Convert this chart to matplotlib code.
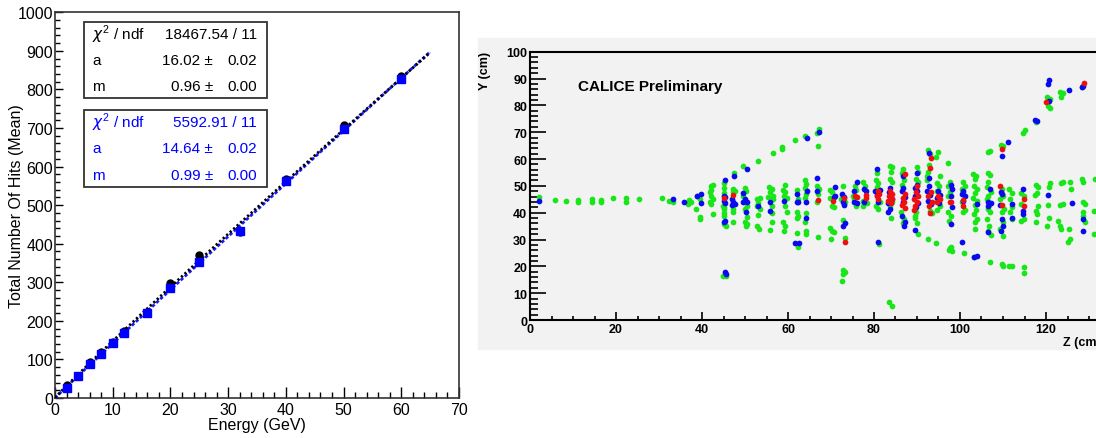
import numpy as np
import matplotlib
matplotlib.use('Agg')
import matplotlib.pyplot as plt
from matplotlib.patches import Rectangle
from matplotlib.ticker import MultipleLocator

plt.rcParams['font.family'] = ['Liberation Sans', 'DejaVu Sans']
plt.rcParams['mathtext.fontset'] = 'custom'
plt.rcParams['mathtext.rm'] = 'Liberation Sans'

# ---- left panel: linearity ----
energy = [2, 4, 6, 8, 10, 12, 16, 20, 25, 32, 40, 50, 60]
hits_black = [35, 58, 93, 120, 145, 175, 222, 298, 372, 430, 568, 708, 835]
hits_blue = [25, 57, 88, 115, 143, 168, 220, 285, 353, 433, 563, 697, 828]
fit_black = dict(chi2='18467.54 / 11', a=16.02, a_err=0.02, m=0.964, m_err=0.00)
fit_blue = dict(chi2='5592.91 / 11', a=14.64, a_err=0.02, m=0.986, m_err=0.00)
fit_range = (0, 65)

# ---- right panel: event display (Z, Y in cm) ----
green_z = [2, 5.7, 8.3, 11.2, 11.2, 14.4, 14.4, 16.4, 16.4, 19.2, 22.4, 22.4, 25.3, 30.6, 32.3, 33.2, 36.9, 36.7,
           38.9, 39.5, 38.6, 39.5, 39.5, 37.5,
           42.0, 42.5, 42.2, 41.9, 42.2, 42.5, 41.9, 42.2, 42.5,
           45.2, 45.0, 45.0, 44.8, 45.2, 45.0, 45.0, 45.0, 45.0, 45.6, 44.8, 45.6,
           47.5, 47.3, 47.1, 47.7, 47.3, 47.1, 47.3,
           49.6, 50.0, 50.2, 49.6, 50.4, 50.0, 50.4, 50.0, 50.4, 50.2,
           53.1, 52.7, 53.5, 53.1, 52.7, 53.5, 53.1, 52.7, 53.3,
           56.4, 55.6, 56.2, 55.8, 56.4, 55.4, 56.4, 56.2, 56.2, 56.2, 55.8,
           58.5, 58.7, 59.3, 58.9, 59.3, 59.1, 59.7, 59.3, 59.7, 58.9, 59.3, 59.1,
           61.7, 62.0, 62.4, 62.0, 62.4, 62.2, 62.0, 62.4,
           64.0, 64.0, 64.3, 64.0, 64.2, 64.0, 64.3, 64.0, 64.3, 64.2,
           66.7, 67.3, 67.0, 66.7, 67.3, 67.0, 66.7, 67.0,
           69.8, 70.2, 69.8, 70.2, 70.6, 69.8, 70.2, 70.6, 70.0,
           72.9, 72.3, 73.3, 72.9, 73.3, 72.9, 73.3, 72.7, 72.5,
           75.6, 75.8, 75.2, 75.4, 75.8,
           77.5, 77.9, 77.5, 78.3, 77.5,
           80.6, 80.5, 81.0, 80.6, 81.4, 80.5, 81.0, 81.2,
           83.7, 84.1, 84.0, 83.7, 84.1, 84.1, 83.7, 84.0, 83.6, 84.1,
           86.8, 86.4, 87.0, 86.4, 86.2, 87.0, 86.8,
           90.1, 90.3, 89.8, 90.3, 89.8, 89.6, 89.6, 90.1, 90.3,
           92.6, 93.0, 92.9, 92.6, 92.4, 92.4, 93.0, 93.4, 92.6, 94.4,
           95.0, 94.4, 95.4, 94.7, 95.2, 94.6, 95.4, 94.7, 97.3,
           97.7, 97.3, 97.7, 97.3, 97.3, 97.8, 97.5, 97.7, 98.1, 97.5, 97.9,
           100.8, 101.2, 100.4, 100.8, 100.4, 101.2, 100.8, 100.9,
           103.1, 103.7, 103.5, 103.2, 103.9, 103.5, 103.1, 104.0, 103.5, 103.7, 103.2, 103.9, 103.5, 103.5, 103.3,
           106.4, 107.0, 106.6, 106.2, 107.1, 106.6, 106.2, 106.8, 106.4, 107.0, 106.2, 106.8, 106.6, 107.1, 107.0, 106.9, 106.6,
           109.5, 110.1, 109.7, 110.1, 109.3, 110.2, 109.7, 110.1, 109.3, 109.9, 109.7, 110.1,
           111.5, 112.0, 111.6, 112.2, 111.6, 112.0, 111.5, 112.2,
           114.6, 115.1, 114.3, 114.9, 114.3, 114.9, 114.3, 114.9, 114.9,
           117.7, 117.7, 118.2, 118.0, 117.4, 118.2, 117.7, 118.0, 117.7,
           120.3, 120.9, 120.5, 120.9, 120.9, 120.8, 120.5, 120.8, 120.3,
           123.3, 123.9, 123.6, 123.6, 124.0, 123.3, 123.9, 123.3, 123.6, 122.9, 125.6, 125.2,
           125.6, 125.7, 125.4,
           128.3, 128.3, 128.5, 128.5, 129.1, 128.7, 128.5, 129.0,
           131.4, 131.2, 131.2]
green_y = [46, 44.7, 44.5, 44.7, 44.1, 45.1, 44.1, 44.7, 44.1, 45.6, 45.3, 43.9, 45.1, 45.3, 44.3, 44.0, 44.7, 43.1,
           46.1, 45.0, 41.2, 38.3, 37.7, 44.0,
           50.1, 50.3, 48.6, 47.6, 46.4, 45.1, 43.9, 43.3, 39.5,
           51.1, 49.1, 47.4, 42.6, 42.0, 41.2, 39.9, 38.9, 35.8, 35.2, 16.5, 16.3,
           54.8, 48.9, 47.6, 48.2, 41.4, 40.4, 36.7,
           57.3, 49.1, 47.9, 46.4, 42.6, 41.4, 38.3, 36.4, 35.8, 35.2,
           59.2, 45.1, 45.4, 43.6, 42.6, 41.4, 39.2, 35.2, 34.0,
           62.1, 49.5, 48.9, 47.6, 46.4, 45.7, 45.1, 42.6, 39.9, 36.7, 33.7,
           64.3, 63.7, 50.3, 48.5, 47.6, 46.4, 45.4, 42.6, 40.4, 36.4, 35.2, 33.3,
           67.0, 48.6, 45.1, 40.2, 38.9, 37.9, 32.5, 27.1,
           68.5, 52.3, 50.7, 49.1, 47.0, 45.4, 39.9, 36.7, 33.3, 32.1,
           69.7, 71.2, 64.8, 49.8, 48.9, 47.0, 43.9, 30.8,
           48.6, 47.6, 45.5, 42.6, 42.0, 34.2, 33.3, 32.9, 30.2,
           49.8, 45.1, 43.9, 37.1, 30.5, 18.8, 17.8, 17.2, 14.7,
           50.1, 48.3, 46.4, 45.1, 42.6,
           51.3, 50.1, 44.5, 43.6, 42.4,
           54.8, 52.3, 51.1, 49.5, 43.9, 42.6, 41.4, 28.2,
           57.5, 56.9, 55.3, 52.6, 51.3, 43.9, 42.6, 37.9, 6.6, 5.1,
           56.3, 54.8, 52.3, 50.3, 40.2, 37.7, 36.2,
           56.9, 55.1, 52.6, 51.6, 40.2, 38.9, 37.9, 36.2, 32.1,
           63.5, 61.9, 57.8, 55.1, 53.6, 52.0, 40.8, 39.9, 30.2, 28.6,
           62.5, 60.6, 53.6, 51.1, 49.9, 48.2, 42.6, 41.1, 58.5,
           51.6, 50.1, 47.6, 46.1, 40.4, 38.9, 37.0, 26.7, 25.9, 26.2, 27.1,
           51.3, 49.8, 48.8, 47.3, 43.8, 41.1, 40.1, 25.0,
           54.4, 53.5, 52.5, 50.0, 48.8, 47.3, 45.3, 44.5, 42.8, 41.1, 39.5, 37.6, 36.6, 33.9, 23.3,
           54.8, 54.0, 51.3, 49.4, 47.8, 46.3, 45.1, 42.8, 41.3, 40.1, 37.6, 35.1, 33.3, 31.7, 21.7, 63.1, 62.8,
           65.2, 64.7, 48.8, 46.3, 45.1, 41.3, 40.1, 36.4, 33.9, 31.4, 20.8, 20.0,
           48.8, 47.3, 45.1, 42.0, 40.1, 37.6, 20.2, 20.2,
           69.7, 70.9, 47.3, 46.3, 43.2, 37.6, 37.0, 19.6, 17.7,
           73.9, 50.3, 49.4, 47.5, 46.6, 42.6, 40.7, 39.5, 36.4,
           83.3, 82.3, 79.9, 78.9, 51.0, 49.4, 42.8, 37.9, 35.1,
           85.1, 84.6, 83.3, 51.0, 51.5, 42.8, 43.2, 34.9, 34.1, 37.0, 30.2, 28.9,
           51.3, 49.0, 34.1,
           87.0, 52.5, 51.3, 43.8, 43.2, 40.1, 38.9, 36.5,
           52.5, 40.7, 32.0]

blue_z = [2.0, 33.2, 35.9, 38.9, 39.7, 39.7,
          45.3, 45.0, 45.4, 45.0, 45.4, 45.0, 45.4, 45.4, 45.6,
          47.5, 50.4, 46.9, 47.3, 46.9, 47.7,
          49.6, 50.0, 50.5, 49.6, 50.2,
          53.1, 55.8, 55.8, 59.1,
          62.0, 62.0, 62.4, 61.6, 62.6,
          64.5, 64.5, 64.2, 64.2,
          67.3, 66.8, 66.7,
          70.9, 70.9, 70.7,
          72.5, 73.0, 72.7, 73.0, 73.3, 72.9,
          76.1, 75.4, 75.4, 76.0,
          77.7, 78.1, 77.7,
          80.6, 80.2, 81.4, 80.6, 81.0, 81.0,
          83.7, 83.6, 84.1, 83.3, 83.7, 83.3,
          86.7, 86.8, 86.4, 87.2, 86.7, 86.4, 87.2, 87.0,
          89.9, 90.1, 89.5, 90.1, 89.5, 90.3, 89.8, 89.5,
          92.9, 92.9, 92.3, 93.0, 92.6, 93.3, 92.8,
          95.0, 95.4, 94.6, 95.2,
          97.8, 98.1, 98.1, 98.0, 98.0,
          100.8, 100.4, 101.2, 100.8, 100.4,
          103.9, 103.2, 103.9,
          107.0, 106.6, 107.1, 106.4, 106.4,
          109.7, 109.5, 109.7, 109.3, 109.7, 110.1, 109.5, 111.2,
          112.0, 112.0,
          114.7, 114.7, 114.6,
          117.4, 118.0,
          120.8, 120.5, 120.8, 120.5,
          125.4, 126.0,
          128.3, 128.7, 128.7, 128.7]
blue_y = [44.5, 45.1, 43.9, 46.1, 47.1, 43.6,
          52.0, 46.4, 45.7, 44.5, 43.6, 36.7, 37.0, 17.8, 17.2,
          53.6, 56.3, 45.1, 44.1, 42.9, 43.3,
          47.4, 45.1, 44.1, 43.9, 40.2,
          42.4, 44.1, 40.8, 44.5,
          47.0, 44.1, 44.1, 28.7, 28.6,
          67.7, 48.1, 43.9, 37.9,
          70.0, 52.8, 48.1,
          49.7, 46.4, 45.7,
          47.0, 45.7, 44.1, 42.9, 36.2, 35.2,
          51.6, 47.9, 44.1, 43.6,
          48.9, 47.9, 43.9,
          56.3, 48.2, 48.6, 46.6, 44.1, 29.2,
          49.1, 47.6, 45.1, 43.6, 41.4, 40.4,
          53.8, 49.1, 47.9, 45.7, 44.1, 38.9, 36.4, 34.9,
          54.8, 50.3, 49.1, 47.9, 46.1, 43.6, 42.0, 33.5,
          62.3, 49.9, 48.2, 46.6, 44.5, 43.3, 53.0,
          47.9, 46.6, 45.4, 43.6,
          50.3, 48.9, 42.0, 46.3, 35.8,
          48.2, 46.9, 46.3, 44.5, 29.2,
          43.2, 23.3, 24.0,
          49.0, 44.1, 43.6, 42.6, 32.9,
          61.2, 47.8, 46.9, 42.8, 37.6, 35.1, 33.1, 66.4,
          43.2, 38.2,
          48.8, 40.7, 39.5,
          74.6, 74.3,
          89.5, 87.9, 81.7, 46.6,
          85.8, 43.6,
          86.7, 87.3, 37.6, 33.3]

red_z = [45.1, 47.1, 67.0, 70.5, 73.0, 73.3, 75.6, 76.0, 78.1, 78.1,
         81.0, 81.2, 80.6, 81.0,
         83.7, 84.1, 83.6, 84.1, 83.3, 83.9,
         87.2, 87.2, 86.7, 87.0, 86.4, 87.2,
         90.1, 89.8, 90.3, 89.3, 89.9, 89.5, 89.3,
         93.3, 93.0, 93.2, 92.6, 93.4, 92.9, 93.0,
         95.0, 95.4, 94.7, 97.7, 97.8, 100.8, 100.8,
         109.3, 109.7, 109.7, 114.9, 114.9, 120.0, 128.8]
red_y = [45.4, 46.6, 44.9, 44.5, 45.4, 29.0, 46.4, 45.7, 46.6, 45.4,
         48.0, 47.0, 46.1, 45.1,
         48.2, 47.0, 46.1, 45.1, 44.5, 43.6,
         54.4, 47.0, 45.4, 43.9, 42.9, 41.6,
         50.1, 47.6, 46.4, 45.1, 44.1, 42.6, 41.1,
         60.3, 56.7, 47.6, 46.1, 43.9, 42.6, 39.9,
         46.1, 45.1, 44.1, 44.1, 43.8, 44.8, 42.6,
         50.0, 42.8, 63.7, 45.1, 42.6, 81.1, 88.2]

W, H = 1096, 439
fig = plt.figure(figsize=(W / 100, H / 100), dpi=100)


def fx(px):
    return px / W


def fy(py):
    return 1 - py / H


# left panel
ax1 = fig.add_axes([fx(55), fy(399), fx(404), (399 - 13.3) / H])
e_fit = np.linspace(fit_range[0], fit_range[1], 300)
ax1.plot(e_fit, fit_blue['a'] * e_fit ** fit_blue['m'], color='#1a1aff', lw=2,
         dashes=(1.2, 0.8), zorder=2)
ax1.plot(e_fit, fit_black['a'] * e_fit ** fit_black['m'], color='black', lw=2,
         dashes=(0.8, 0.9), zorder=3)
ax1.plot(energy, hits_black, 'o', color='black', ms=5, zorder=4)
ax1.plot(energy, hits_blue, 's', color='#0000ff', ms=5.5, zorder=5)
ax1.set_xlim(0, 70)
ax1.set_ylim(0, 1000)
ax1.xaxis.set_major_locator(MultipleLocator(10))
ax1.xaxis.set_minor_locator(MultipleLocator(2))
ax1.yaxis.set_major_locator(MultipleLocator(100))
ax1.yaxis.set_minor_locator(MultipleLocator(20))
ax1.tick_params(which='both', direction='in', top=False, right=False, labelsize=11.5, width=1)
ax1.tick_params(axis='x', which='major', length=8, pad=3)
ax1.tick_params(axis='x', which='minor', length=4.3)
ax1.tick_params(axis='y', which='major', length=6, pad=1.5)
ax1.tick_params(axis='y', which='minor', length=3.3)
for s in ax1.spines.values():
    s.set_linewidth(1.2)
    s.set_color('#333333')
ax1.set_xlabel('Energy (GeV)', fontsize=11.5)
ax1.set_ylabel('Total Number Of Hits (Mean)', fontsize=11.5)
ax1.xaxis.set_label_coords(0.5, -0.05)
ax1.yaxis.set_label_coords(-0.077, 0.5)


def stat_box(top, bottom, fit, color):
    fig.add_artist(Rectangle((fx(84), fy(bottom)), fx(183), (bottom - top) / H,
                             transform=fig.transFigure, fill=False,
                             edgecolor='#333333', lw=1.3))
    rows = [top + (bottom - top) * f for f in (0.16, 0.5, 0.84)]
    fig.text(fx(92), fy(rows[0]), r'$\chi^{2}$ / ndf', color=color, fontsize=11, va='center')
    fig.text(fx(257), fy(rows[0]), fit['chi2'], color=color, fontsize=11, va='center', ha='right')
    for r, name in zip(rows[1:], ['a', 'm']):
        fig.text(fx(92), fy(r), name, color=color, fontsize=11, va='center')
        fig.text(fx(213), fy(r), f"{fit[name]:.2f} \u00b1", color=color, fontsize=11,
                 va='center', ha='right')
        fig.text(fx(257), fy(r), f"{fit[name + '_err']:.2f}", color=color, fontsize=11,
                 va='center', ha='right')


stat_box(23, 99, fit_black, 'black')
stat_box(111, 188, fit_blue, '#0000ff')

# right panel
fig.add_artist(Rectangle((fx(478), fy(350)), 1 - fx(478), (350 - 39) / H,
                         transform=fig.transFigure, color='#f2f2f2', zorder=-5))
ax2 = fig.add_axes([fx(530), fy(321), fx(570), (321 - 52.7) / H])
ax2.set_facecolor('#f2f2f2')
ax2.scatter(green_z, green_y, s=17, color='#19e619', linewidths=0, zorder=2)
ax2.scatter(blue_z, blue_y, s=17, color='#0a0aee', linewidths=0, zorder=3)
ax2.scatter(red_z, red_y, s=17, color='#ee1010', linewidths=0, zorder=4)
ax2.set_xlim(0, 570 / 4.3)
ax2.set_ylim(0, 100)
ax2.xaxis.set_major_locator(MultipleLocator(20))
ax2.xaxis.set_minor_locator(MultipleLocator(5))
ax2.yaxis.set_major_locator(MultipleLocator(10))
ax2.yaxis.set_minor_locator(MultipleLocator(2))
ax2.tick_params(which='both', direction='in', top=False, right=False, width=1.2)
ax2.tick_params(axis='x', which='major', length=6, pad=2)
ax2.tick_params(axis='x', which='minor', length=3)
ax2.tick_params(axis='y', which='major', length=11.5, pad=2)
ax2.tick_params(axis='y', which='minor', length=6)
for lab in ax2.get_xticklabels() + ax2.get_yticklabels():
    lab.set_fontweight('bold')
    lab.set_fontsize(9)
for s in ax2.spines.values():
    s.set_linewidth(1.5)
    s.set_color('black')
ax2.text(11.1, 87.3, 'CALICE Preliminary', fontsize=11, fontweight='bold', va='center')
fig.text(fx(485), fy(52), 'Y (cm)', rotation=90, fontsize=9, fontweight='bold',
         ha='center', va='top')
fig.text(fx(1101), fy(343), 'Z (cm)', fontsize=9, fontweight='bold', ha='right', va='center')

fig.savefig('out.png', dpi=100)
